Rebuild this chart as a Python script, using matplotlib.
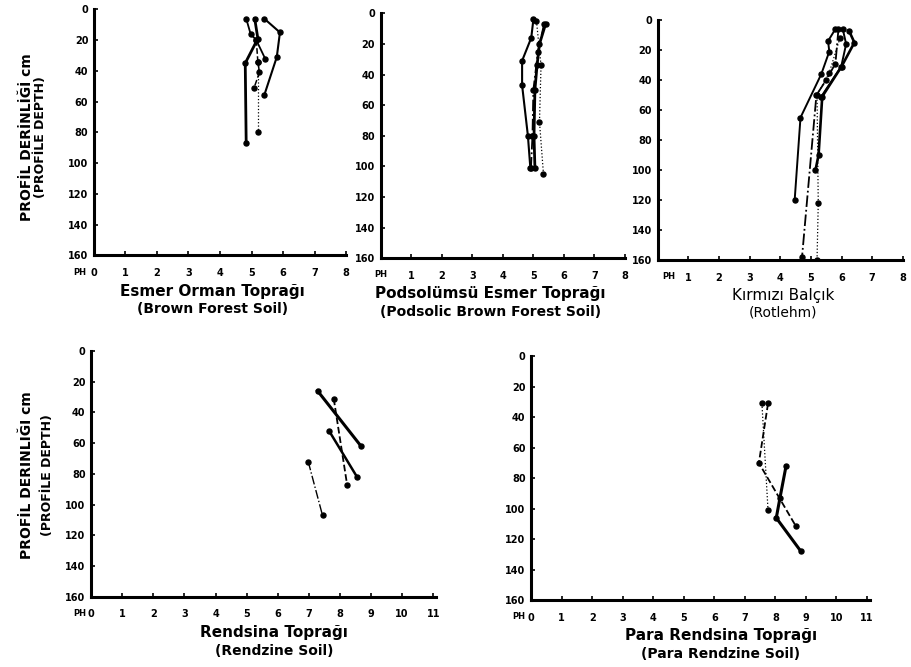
import matplotlib.pyplot as plt

plt.rcParams['font.family'] = ['DejaVu Sans']
plt.rcParams['font.weight'] = 'bold'

# depth ticks (cm) and pH ticks
depth_ticks = [0, 20, 40, 60, 80, 100, 120, 140, 160]
ph_ticks_8 = [0, 1, 2, 3, 4, 5, 6, 7, 8]
ph_ticks_11 = [0, 1, 2, 3, 4, 5, 6, 7, 8, 9, 10, 11]

# Esmer Orman Topragi (Brown Forest Soil)
bf_a_ph = [5.1, 5.2, 4.8, 4.83]
bf_a_depth = [6, 19, 35, 87]
bf_b_ph = [5.4, 5.9, 5.8, 5.4]
bf_b_depth = [6, 15, 31, 56]
bf_c_ph = [4.83, 4.97, 5.15, 5.43]
bf_c_depth = [6, 16, 20, 32]
bf_d_ph = [5.15, 5.2, 5.25, 5.08]
bf_d_depth = [20, 34, 41, 51]
bf_e_ph = [5.2, 5.2]
bf_e_depth = [34, 80]

# Podsolumsu Esmer Topragi (Podsolic Brown Forest Soil)
pbf_a_ph = [5.0, 4.93, 4.63, 4.63, 4.82, 4.9]
pbf_a_depth = [4, 16, 31, 47, 80, 101]
pbf_b_ph = [5.4, 5.2, 5.12, 5.05, 5.02, 5.05]
pbf_b_depth = [7, 20, 34, 50, 80, 101]
pbf_c_ph = [5.35, 5.15, 5.0, 4.97, 4.92]
pbf_c_depth = [7, 25, 50, 80, 101]
pbf_d_ph = [5.1, 5.25, 5.2, 5.33]
pbf_d_depth = [5, 34, 71, 105]

# Kirmizi Balcik (Rotlehm)
rl_a_ph = [5.8, 5.56, 5.6, 5.34, 4.66, 4.47]
rl_a_depth = [6, 14, 21, 36, 65, 120]
rl_b_ph = [6.24, 6.42, 6.0, 5.37, 5.25, 5.15]
rl_b_depth = [7, 15, 31, 51, 90, 100]
rl_c_ph = [6.04, 6.15, 5.99, 5.34]
rl_c_depth = [6, 16, 31, 51]
rl_d_ph = [5.9, 5.8, 5.5, 5.18, 4.71]
rl_d_depth = [6, 29, 40, 50, 158]
rl_e_ph = [5.95, 5.6, 5.2, 5.24, 5.2]
rl_e_depth = [12, 35, 50, 122, 160]

# Rendsina Topragi (Rendzine Soil)
rz_a_ph = [7.28, 8.68]
rz_a_depth = [26, 62]
rz_b_ph = [7.8, 8.23]
rz_b_depth = [31, 87]
rz_c_ph = [7.65, 8.55]
rz_c_depth = [52, 82]
rz_d_ph = [6.98, 7.44]
rz_d_depth = [72, 107]

# Para Rendsina Topragi (Para Rendzine Soil)
prz_a_ph = [8.35, 8.15, 8.03, 8.84]
prz_a_depth = [72, 93, 106, 128]
prz_b_ph = [7.76, 7.46, 8.66]
prz_b_depth = [31, 70, 111]
prz_c_ph = [7.56, 7.76]
prz_c_depth = [31, 101]

fig = plt.figure(figsize=(9.11, 6.67), dpi=100)


def make_axes(rect, xmax, xticks, ph_x, title1, title2, tx, t_bold=True):
    ax = fig.add_axes(rect)
    ax.set_xlim(0, xmax)
    ax.set_ylim(160, 0)
    for s in ['top', 'right']:
        ax.spines[s].set_visible(False)
    for s in ['left', 'bottom']:
        ax.spines[s].set_linewidth(2.2)
    ax.set_xticks(xticks)
    ax.set_xticklabels([str(t) for t in xticks], fontsize=7, fontweight='bold')
    ax.set_yticks(depth_ticks)
    ax.set_yticklabels([str(t) for t in depth_ticks], fontsize=7, fontweight='bold')
    ax.tick_params(direction='in', length=3, width=1.2)
    ax.tick_params(axis='x', pad=9)
    ax.tick_params(axis='y', pad=4)
    # "PH" sits on the tick label row
    ax.text(ph_x, -0.068, 'PH', transform=ax.get_xaxis_transform(), fontsize=6,
            fontweight='bold', ha='center', va='center')
    w = 'bold' if t_bold else 'normal'
    ax.text(tx, -0.115, title1, transform=ax.transAxes, ha='center', va='top',
            fontsize=11, fontweight=w)
    ax.text(tx, -0.19, title2, transform=ax.transAxes, ha='center', va='top',
            fontsize=10, fontweight=w)
    return ax


mk = dict(marker='o', markersize=3.6, color='black')

# panel 1
ax1 = make_axes([0.103, 0.617, 0.277, 0.369], 8, ph_ticks_8, -0.45,
                'Esmer Orman Toprağı', '(Brown Forest Soil)', 0.47)
ax1.plot(bf_a_ph, bf_a_depth, lw=2.0, **mk)
ax1.plot(bf_b_ph, bf_b_depth, lw=1.5, **mk)
ax1.plot(bf_c_ph, bf_c_depth, lw=1.3, **mk)
ax1.plot(bf_d_ph, bf_d_depth, lw=1.1, ls='--', **mk)
ax1.plot(bf_e_ph, bf_e_depth, lw=0.9, ls=':', **mk)

# panel 2
ax2 = make_axes([0.418, 0.613, 0.268, 0.367], 8, ph_ticks_8[1:], 0.0,
                'Podsolümsü Esmer Toprağı', '(Podsolic Brown Forest Soil)', 0.45)
ax2.plot(pbf_a_ph, pbf_a_depth, lw=1.5, **mk)
ax2.plot(pbf_b_ph, pbf_b_depth, lw=2.0, **mk)
ax2.plot(pbf_c_ph, pbf_c_depth, lw=1.3, ls='-.', **mk)
ax2.plot(pbf_d_ph, pbf_d_depth, lw=0.9, ls=':', **mk)

# panel 3
ax3 = make_axes([0.722, 0.610, 0.269, 0.360], 8, ph_ticks_8[1:], 0.35,
                'Kırmızı Balçık', '(Rotlehm)', 0.51, t_bold=False)
ax3.plot(rl_a_ph, rl_a_depth, lw=1.4, **mk)
ax3.plot(rl_b_ph, rl_b_depth, lw=1.9, **mk)
ax3.plot(rl_c_ph, rl_c_depth, lw=1.4, **mk)
ax3.plot(rl_d_ph, rl_d_depth, lw=1.3, ls='-.', **mk)
ax3.plot(rl_e_ph, rl_e_depth, lw=0.9, ls=':', **mk)

# panel 4
ax4 = make_axes([0.100, 0.105, 0.379, 0.369], 11.1, ph_ticks_11, -0.35,
                'Rendsina Toprağı', '(Rendzine Soil)', 0.53)
ax4.plot(rz_a_ph, rz_a_depth, lw=2.2, **mk)
ax4.plot(rz_b_ph, rz_b_depth, lw=1.3, ls='--', **mk)
ax4.plot(rz_c_ph, rz_c_depth, lw=1.8, **mk)
ax4.plot(rz_d_ph, rz_d_depth, lw=1.0, ls='-.', **mk)

# panel 5
ax5 = make_axes([0.583, 0.100, 0.372, 0.366], 11.1, ph_ticks_11, -0.4,
                'Para Rendsina Toprağı', '(Para Rendzine Soil)', 0.56)
ax5.plot(prz_a_ph, prz_a_depth, lw=2.2, **mk)
ax5.plot(prz_b_ph, prz_b_depth, lw=1.3, ls='--', **mk)
ax5.plot(prz_c_ph, prz_c_depth, lw=0.9, ls=':', **mk)

# y-axis labels
fig.text(0.030, 0.795, 'PROFİL DERİNLİĞİ cm', rotation=90, ha='center', va='center',
         fontsize=10, fontweight='bold')
fig.text(0.045, 0.795, '(PROFİLE DEPTH)', rotation=90, ha='center', va='center',
         fontsize=9, fontweight='bold')
fig.text(0.030, 0.288, 'PROFİL DERINLIĞI cm', rotation=90, ha='center', va='center',
         fontsize=10, fontweight='bold')
fig.text(0.052, 0.288, '(PROFİLE DEPTH)', rotation=90, ha='center', va='center',
         fontsize=9, fontweight='bold')

fig.savefig('out.png', dpi=100)
